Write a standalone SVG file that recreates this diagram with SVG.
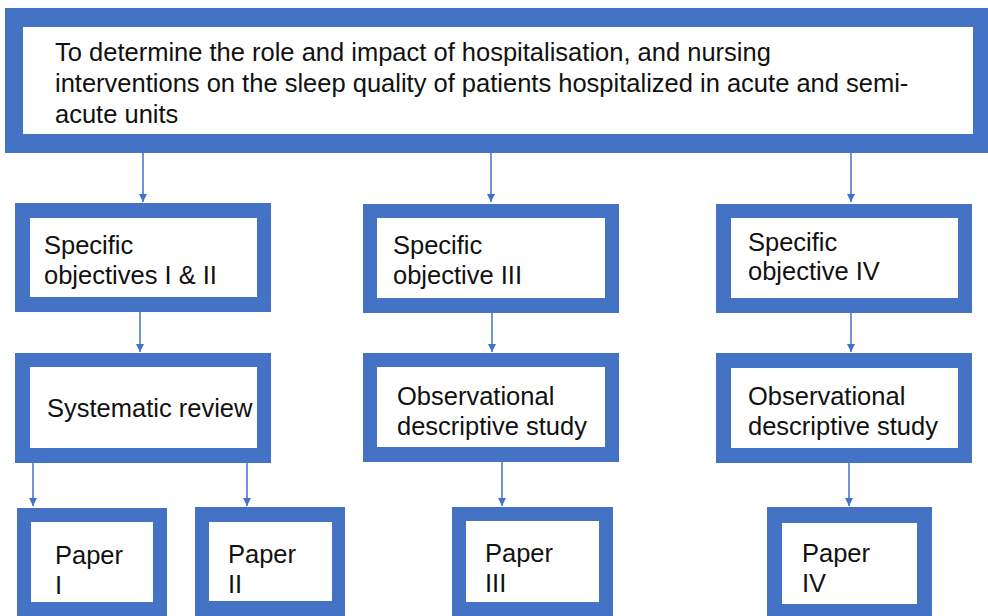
<svg xmlns="http://www.w3.org/2000/svg" width="988" height="616" viewBox="0 0 988 616">
<style>
.o{fill:#4472C4}
.i{fill:#ffffff}
.t{font-family:"Liberation Sans",Arial,sans-serif;font-size:25.5px;fill:#111}
.c line{stroke:#4472C4;stroke-width:1.5}
</style>
<defs>
<marker id="ah" viewBox="0 0 10 10" refX="10" refY="5" markerWidth="8" markerHeight="8" markerUnits="userSpaceOnUse" orient="auto">
<path d="M0,0 L10,5 L0,10 z" fill="#4472C4"/>
</marker>
</defs>
<rect width="988" height="616" fill="#ffffff"/>
<g class="c">
<line x1="143" y1="153" x2="143" y2="202" marker-end="url(#ah)"/>
<line x1="491" y1="153" x2="491" y2="202" marker-end="url(#ah)"/>
<line x1="851" y1="153" x2="851" y2="202" marker-end="url(#ah)"/>
<line x1="140" y1="312" x2="140" y2="352" marker-end="url(#ah)"/>
<line x1="492" y1="312" x2="492" y2="352" marker-end="url(#ah)"/>
<line x1="851" y1="312" x2="851" y2="352" marker-end="url(#ah)"/>
<line x1="33" y1="463" x2="33" y2="506" marker-end="url(#ah)"/>
<line x1="247" y1="463" x2="247" y2="506" marker-end="url(#ah)"/>
<line x1="502" y1="462" x2="502" y2="506" marker-end="url(#ah)"/>
<line x1="849" y1="463" x2="849" y2="506" marker-end="url(#ah)"/>
</g>
<g id="goal">
<rect class="o" x="5" y="8" width="983" height="145"/>
<rect class="i" x="23" y="27" width="950" height="107"/>
<text class="t"><tspan x="55" y="61">To determine the role and impact of hospitalisation, and nursing</tspan><tspan x="55" y="92">interventions on the sleep quality of patients hospitalized in acute and semi-</tspan><tspan x="55" y="123">acute units</tspan></text>
</g>
<g id="obj12">
<rect class="o" x="15" y="203" width="256" height="109"/>
<rect class="i" x="30" y="218" width="227" height="79"/>
<text class="t"><tspan x="44" y="254">Specific</tspan><tspan x="44" y="284">objectives I &amp; II</tspan></text>
</g>
<g id="obj3">
<rect class="o" x="363" y="204" width="256" height="109"/>
<rect class="i" x="377" y="218" width="228" height="80"/>
<text class="t"><tspan x="393" y="254">Specific</tspan><tspan x="393" y="284">objective III</tspan></text>
</g>
<g id="obj4">
<rect class="o" x="716" y="204" width="256" height="109"/>
<rect class="i" x="731" y="218" width="227" height="80"/>
<text class="t"><tspan x="748" y="251">Specific</tspan><tspan x="748" y="280">objective IV</tspan></text>
</g>
<g id="review">
<rect class="o" x="15" y="353" width="256" height="110"/>
<rect class="i" x="30" y="367" width="227" height="81"/>
<text class="t" x="47" y="417">Systematic review</text>
</g>
<g id="study3">
<rect class="o" x="363" y="353" width="256" height="109"/>
<rect class="i" x="377" y="367" width="228" height="80"/>
<text class="t"><tspan x="397" y="405">Observational</tspan><tspan x="397" y="435">descriptive study</tspan></text>
</g>
<g id="study4">
<rect class="o" x="716" y="353" width="256" height="110"/>
<rect class="i" x="731" y="368" width="227" height="80"/>
<text class="t"><tspan x="748" y="405">Observational</tspan><tspan x="748" y="435">descriptive study</tspan></text>
</g>
<g id="paper1">
<rect class="o" x="17" y="508" width="150" height="120"/>
<rect class="i" x="31" y="522" width="122" height="80"/>
<text class="t"><tspan x="55" y="564">Paper</tspan><tspan x="55" y="594">I</tspan></text>
</g>
<g id="paper2">
<rect class="o" x="195" y="507" width="150" height="120"/>
<rect class="i" x="209" y="522" width="123" height="79"/>
<text class="t"><tspan x="228" y="563">Paper</tspan><tspan x="228" y="593">II</tspan></text>
</g>
<g id="paper3">
<rect class="o" x="452" y="507" width="161" height="120"/>
<rect class="i" x="466" y="521" width="133" height="81"/>
<text class="t"><tspan x="485" y="562">Paper</tspan><tspan x="485" y="592">III</tspan></text>
</g>
<g id="paper4">
<rect class="o" x="767" y="507" width="165" height="120"/>
<rect class="i" x="782" y="523" width="135" height="81"/>
<text class="t"><tspan x="802" y="562">Paper</tspan><tspan x="802" y="592">IV</tspan></text>
</g>
</svg>
